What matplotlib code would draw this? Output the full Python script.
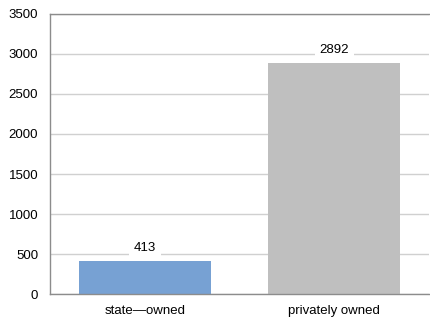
import matplotlib.pyplot as plt

categories = ["state\u2014owned", "privately owned"]
values = [413, 2892]
colors = ["#77A1D3", "#BFBFBF"]
yticks = [0, 500, 1000, 1500, 2000, 2500, 3000, 3500]

plt.rcParams['font.family'] = ['Liberation Sans', 'DejaVu Sans']
plt.rcParams['font.size'] = 9.5

fig = plt.figure(figsize=(4.30, 3.21), dpi=100)
ax = fig.add_axes([0.1163, 0.0841, 0.8814, 0.8723])

bars = ax.bar(range(len(values)), values, width=0.695, color=colors, zorder=2)
ax.set_xlim(-0.5, len(values) - 0.5)
ax.set_ylim(0, 3500)
ax.set_yticks(yticks)
ax.set_xticks(range(len(values)))
ax.set_xticklabels(categories)
ax.tick_params(length=0, pad=8.5, colors="#000000")
ax.tick_params(axis="x", pad=8)
ax.yaxis.grid(True, color="#D0D0D0", linewidth=1, zorder=0)

for s in ["left", "bottom", "top"]:
    ax.spines[s].set_color("#8C8C8C")
    ax.spines[s].set_linewidth(1)
ax.spines["right"].set_visible(False)

for b, v in zip(bars, values):
    ax.annotate(str(v), (b.get_x() + b.get_width() / 2, v), xytext=(0, 9),
                textcoords="offset points", ha="center", va="center",
                bbox=dict(facecolor="white", edgecolor="none", pad=3.5), zorder=3)

fig.savefig("out.png", dpi=100)
